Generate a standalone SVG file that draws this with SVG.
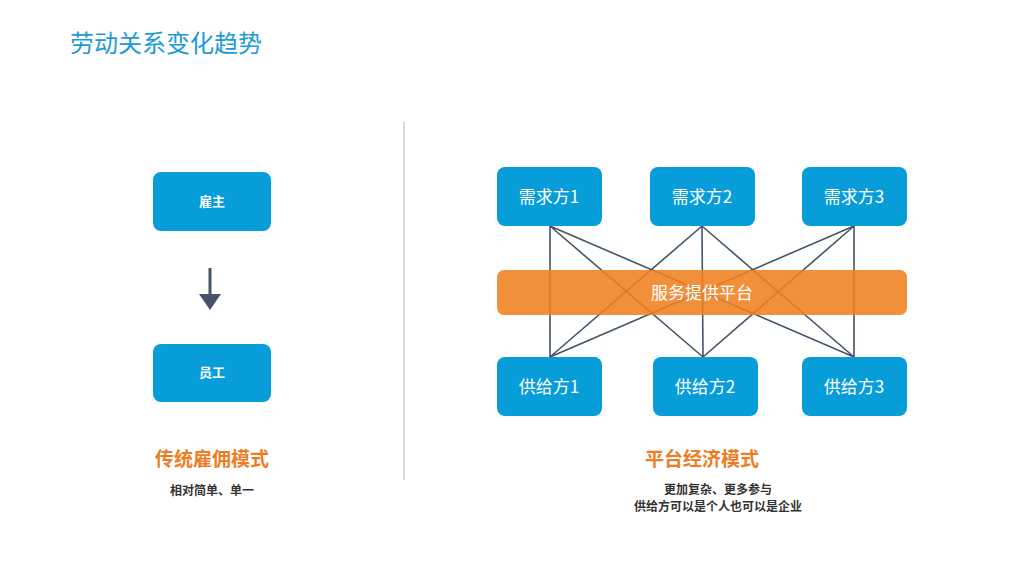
<svg xmlns="http://www.w3.org/2000/svg" width="1024" height="576" viewBox="0 0 1024 576">
<style>
.box{fill:#079dd9}
.t{font-family:"Noto Sans CJK SC","Liberation Sans",sans-serif;fill:#fff;text-anchor:middle}
.c{stroke:#44546a;stroke-width:1.6;fill:none}
</style>
<rect width="1024" height="576" fill="#fff"/>
<text x="70" y="52" font-family="Noto Sans CJK SC,sans-serif" font-size="24" fill="#1b9bd7">劳动关系变化趋势</text>
<line x1="404" y1="122" x2="404" y2="480" stroke="#bfbfbf" stroke-width="1.2"/>
<g id="guzhu"><rect class="box" x="153" y="172" width="118" height="59" rx="8"/><text class="t" x="212" y="206" font-size="13" font-weight="bold">雇主</text></g>
<g id="yuangong"><rect class="box" x="153" y="344" width="118" height="58" rx="8"/><text class="t" x="212" y="377" font-size="13" font-weight="bold">员工</text></g>
<g id="connectors">
<line x1="210" y1="268" x2="210" y2="295" stroke="#44546a" stroke-width="3"/>
<polygon points="199,294 221,294 210,310" fill="#44546a"/>
<path class="c" d="M550,226 L550,357 M550,226 L703,357 M550,226 L854,357 M702,226 L550,357 M702,226 L703,357 M702,226 L854,357 M854,226 L550,357 M854,226 L703,357 M854,226 L854,357"/>
</g>
<g id="platform"><rect x="497" y="270" width="410" height="45" rx="7" fill="#f0801f" fill-opacity="0.88"/><text class="t" x="702" y="299" font-size="17">服务提供平台</text></g>
<g id="xq1"><rect class="box" x="497" y="167" width="105" height="59" rx="8"/><text class="t" x="549" y="203" font-size="17">需求方1</text></g>
<g id="xq2"><rect class="box" x="650" y="167" width="105" height="59" rx="8"/><text class="t" x="702" y="203" font-size="17">需求方2</text></g>
<g id="xq3"><rect class="box" x="802" y="167" width="105" height="59" rx="8"/><text class="t" x="854" y="203" font-size="17">需求方3</text></g>
<g id="gj1"><rect class="box" x="497" y="357" width="105" height="59" rx="8"/><text class="t" x="549" y="393" font-size="17">供给方1</text></g>
<g id="gj2"><rect class="box" x="653" y="357" width="105" height="59" rx="8"/><text class="t" x="705" y="393" font-size="17">供给方2</text></g>
<g id="gj3"><rect class="box" x="802" y="357" width="105" height="59" rx="8"/><text class="t" x="854" y="393" font-size="17">供给方3</text></g>
<g font-family="Noto Sans CJK SC,sans-serif" text-anchor="middle" font-weight="bold">
<text x="212" y="466" font-size="19" fill="#ed7d22">传统雇佣模式</text>
<text x="212" y="495" font-size="12" fill="#333">相对简单、单一</text>
<text x="702" y="466" font-size="19" fill="#ed7d22">平台经济模式</text>
<text x="718" y="494" font-size="12" fill="#333">更加复杂、更多参与</text>
<text x="718" y="511" font-size="12" fill="#333">供给方可以是个人也可以是企业</text>
</g>
</svg>
